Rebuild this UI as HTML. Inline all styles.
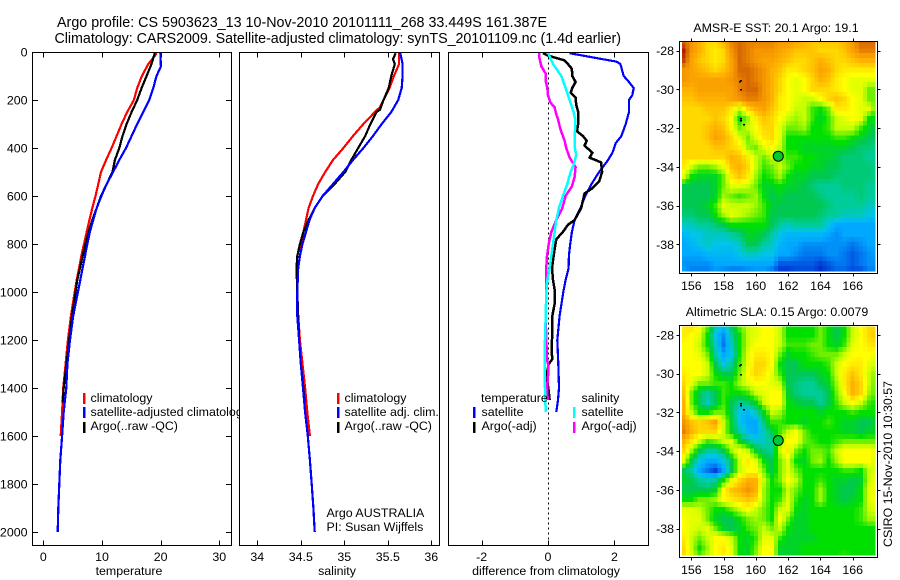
<!DOCTYPE html>
<html lang="en">
<head>
<meta charset="utf-8">
<title>Argo profile</title>
<style>
html,body{margin:0;padding:0;background:#fff;}
svg{display:block;font-family:"Liberation Sans",sans-serif;fill:#000;}
text{font-size:12.4px;}
.ttl{font-size:14.3px;}
</style>
</head>
<body>
<svg id="chart" xmlns="http://www.w3.org/2000/svg" width="900" height="580" viewBox="0 0 900 580">
<rect width="900" height="580" fill="#fff"/>
<text class="ttl" x="57" y="27" textLength="490">Argo profile: CS 5903623_13 10-Nov-2010 20101111_268 33.449S 161.387E</text>
<text class="ttl" x="54.500" y="43" textLength="566.500">Climatology: CARS2009. Satellite-adjusted climatology: synTS_20101109.nc (1.4d earlier)</text>
<g id="layer"></g>
<text x="776" y="32" text-anchor="middle">AMSR-E SST: 20.1 Argo: 19.1</text>
<text x="777" y="316" text-anchor="middle">Altimetric SLA: 0.15 Argo: 0.0079</text>
<text transform="translate(892,547) rotate(-90)">CSIRO 15-Nov-2010 10:30:57</text>
</svg>
<script>
// ---------- profile data ----------
const tempClimDepth = [0,10,50,100,150,200,250,300,350,400,450,500,550,600,650,700,750,800,850,900,950,1000,1100,1200,1300,1400,1500,1600];
const tempClim = [19.3,19.2,17.9,16.8,16.0,15.45,14.3,13.35,12.5,11.65,10.7,9.83,9.37,8.9,8.35,7.85,7.4,6.93,6.47,6.1,5.7,5.35,4.7,4.2,3.8,3.4,3.2,2.96];
const tempSatDepth = [0,60,100,150,200,250,300,350,400,450,500,550,600,650,700,750,800,850,900,950,1000,1100,1200,1300,1400,1500,1600,1700,1800,1900,2000];
const tempSat = [19.95,20.05,19.3,18.75,18.05,17.05,16,15.05,14.1,12.95,11.9,10.8,9.9,9.1,8.5,7.95,7.5,7.1,6.7,6.3,5.9,5.1,4.55,4.1,3.92,3.47,3.2,2.9,2.73,2.56,2.45];
const tempArgoDepth = [5,50,100,150,200,250,300,350,400,450,500,550,600,650,700,750,800,850,900,950,1000,1100,1200,1300,1400,1460];
const tempArgo = [19.0,18.45,17.6,16.75,16,15.05,14.2,13.5,12.95,12.2,11.8,10.8,9.83,9.1,8.35,7.73,7.2,6.7,6.25,5.8,5.5,4.9,4.4,3.95,3.47,3.3];

const salClimDepth = [0,50,100,150,200,230,250,270,300,350,400,450,500,550,600,650,700,750,800,850,900,1000,1100,1200,1400,1500,1600];
const salClim = [35.63,35.63,35.57,35.52,35.45,35.41,35.35,35.3,35.22,35.1,34.99,34.87,34.78,34.7,34.64,34.59,34.56,34.53,34.51,34.49,34.47,34.46,34.47,34.49,34.55,34.575,34.605];
const salSatDepth = [0,50,100,150,200,250,300,350,400,450,500,550,600,650,700,750,800,850,900,1000,1100,1200,1300,1400,1500,1600,1700,1800,1900,2000];
const salSat = [35.64,35.67,35.67,35.66,35.62,35.54,35.43,35.33,35.22,35.1,34.99,34.87,34.75,34.66,34.6,34.56,34.52,34.49,34.47,34.46,34.46,34.48,34.5,34.525,34.55,34.58,34.605,34.625,34.645,34.66];
const salArgoDepth = [5,30,50,100,150,200,240,250,300,350,400,450,500,550,600,650,700,750,800,850,900,1000,1100,1200,1300,1400,1460];
const salArgo = [35.59,35.56,35.58,35.54,35.51,35.45,35.41,35.37,35.3,35.24,35.16,35.08,35.01,34.89,34.75,34.66,34.59,34.53,34.49,34.46,34.45,34.46,34.47,34.48,34.5,34.53,34.545];

const diffTSatDepth = [5,10,20,30,40,50,70,100,120,150,180,200,250,300,350,380,420,450,500,550,600,650,700,750,800,850,900,950,1000,1100,1200,1300,1400,1450,1500];
const diffTSat = [0.65,0.85,1.25,1.65,2.06,2.18,2.22,2.28,2.41,2.58,2.54,2.44,2.44,2.34,2.21,2.04,1.94,1.81,1.54,1.31,1.12,0.98,0.8,0.72,0.67,0.63,0.62,0.53,0.46,0.35,0.28,0.31,0.33,0.3,0.25];
const diffTArgoDepth = [5,15,25,35,50,70,100,125,150,170,190,220,250,300,330,350,370,390,420,440,460,500,540,570,590,650,700,720,750,780,830,900,950,1000,1050,1100,1200,1250,1280,1300,1350,1400,1450];
const diffTArgo = [-0.15,0,0.25,0.5,0.6,0.72,0.73,0.83,0.73,0.68,0.83,0.85,0.91,0.91,0.87,1.05,1.17,1.1,1.34,1.25,1.6,1.63,1.54,1.31,1.1,1,0.8,0.6,0.45,0.25,0.19,0.12,0.15,0.21,0.2,0.13,0.12,0.11,0.13,0.02,-0.05,0.01,0.05];
const diffSSatDepth = [0,20,50,80,100,150,200,250,280,350,400,430,470,500,550,600,650,700,750,800,850,900,950,1000,1100,1200,1300,1400,1500];
const diffSSat = [0,0.05,0.15,0.3,0.4,0.53,0.65,0.77,0.82,0.81,0.81,0.85,0.77,0.68,0.58,0.45,0.33,0.25,0.2,0.15,0.1,0.05,-0.02,-0.05,-0.07,-0.09,-0.1,-0.09,-0.07];
const diffSArgoDepth = [0,15,30,60,90,120,150,180,210,230,260,280,320,370,400,440,480,520,560,600,650,700,750,800,850,900,1000,1100,1200,1280,1300,1350,1400,1450];
const diffSArgo = [-0.25,-0.27,-0.25,-0.2,-0.07,-0.07,-0.02,0,0.07,0.2,0.25,0.3,0.37,0.5,0.55,0.65,0.83,0.8,0.72,0.53,0.43,0.25,0.1,0.02,-0.03,-0.05,-0.05,-0.07,-0.05,-0.03,0,0,-0.03,-0.01];

// ---------- tick labels ----------
const depthTicks = [0,200,400,600,800,1000,1200,1400,1600,1800,2000];
const tempTicks = [0,10,20,30];
const salTicks = [34,34.5,35,35.5,36];
const diffTicks = [-2,0,2];
const lonTicks = [156,158,160,162,164,166];
const latTicks = [28,30,32,34,36,38];

// ---------- map data (colour level per node, north to south, west to east) ----------
const sstGrid = [
[14,13,12,11,11,12,13.5,14,13.5,13.5,13.5,13.5,13,13,12.5,12,11.5,11.5,11.5,11.5,12,13,14,14,14],
[15,13,12,11,10.5,11,13,14,13.5,13,13,13,12.5,12,11.5,11.5,11.5,11,11,11,11.5,12.5,13.5,13.5,13.5],
[14.5,12.5,11.5,11,10.5,11,12.5,14,13.5,13,12.5,12.5,12,11.5,11,11,11.5,12,11.5,11,11,11.5,12,12,12],
[13,12.5,12,11.5,11,11.5,12.5,14,14,13.5,13,12,11.5,10.5,10.5,11,11.5,12.5,12,11,10.5,10.5,10.5,10.5,10.5],
[13,12.5,12.5,12.5,12.5,12.5,13,13.5,14,13.5,13,12,11,10,9.5,10,11,12,11.5,10.5,10,9.5,9.5,9.5,9.5],
[12,12,12.5,12.5,12.5,12.5,12.5,13.5,14,14,13,12,11,10,9.5,10,11,11,11,10.5,10,9.5,9.5,8,8],
[11.5,11.5,12,12,12,12,12.5,13,13.5,13.5,13,12,10.5,10,9.5,9,9,10,11,11.5,11,10,9.5,8,8],
[11,11,11,11.5,11.5,11.5,10.5,9,11,12,12.5,11.5,10.5,10,9,9,7.5,7,8,10.5,10.5,10,9.5,9.5,7.5],
[11,11,11,11,11.5,11,10,7,8.5,10.5,11.5,11,10,9,8.5,9,7.5,6.5,7.5,9,9.5,10,9.5,7,6.5],
[11,11,11,11.5,12,11.5,10,8,9,10,11,11,9.5,8,8,8.5,7,7,7.5,9,9,9,7.5,6.5,6],
[11,11,11,11.5,12.5,12,11,9.5,8,9.5,10.5,11,9.5,7,7,7,7,7,7,7.5,7.5,7,6.5,6,5.5],
[11,11,11,11,11.5,11.5,11,10.5,8.5,8,9.5,10,9,7,7,6.5,6.5,6.5,6.5,6.5,6.5,6,5.5,5.5,5],
[11,11,11,11,11,11,12,11.5,10.5,9,8,9,8.5,7.5,7.5,7,7,6.5,6.5,6,5.5,5.5,5.5,5,5],
[10.5,9,8,8,8.5,9.5,11.5,12,11,9,7.5,8,9,8,7,7,6.5,6.5,6,6,5.5,5.5,5.5,5.5,5],
[9.5,7,6.5,6.5,6.5,8,10.5,11.5,10.5,8.5,7,7.5,8.5,7,6.5,6.5,6,6,6,5.5,5.5,5.5,5.5,5.5,5],
[6,6,6,6,6.5,8,9.5,9.5,9,8,6.5,6.5,7,6.5,6.5,6,5.5,5,5,5,5.5,5.5,5.5,5,5],
[6,6,6,6,6.5,8.5,8,7.5,8,8.5,7,6,6.5,6,6,6,6,5.5,5,5,5,5,5.5,5,5],
[6,6,6,6.5,7.5,9.5,9,9,9,8.5,7.5,6.5,6,6,6,6,6,6,5.5,5,5,5,5,4.5,4.5],
[5.5,5.5,6,6,7,8.5,9.5,9,8.5,8,7.5,6,6,6,6,6,6,5.5,5,5,4.5,4.5,4.5,4,4],
[4.5,4.5,5,5,5.5,6,7,7,7,7,7,6,5,4.5,5,5,5,5,4,3,3,3,3,3,3],
[3.5,4,4,4.5,4.5,4.5,5,5.5,6.5,6.5,6,5,4,3.5,3.5,3.5,3.5,3.5,3,2.5,3,3,3,3,3],
[3,3.5,4,4.5,4,4,4,4.5,6,6,5,4.5,3.5,3,3,2.5,2.5,2.5,2.5,2.5,2.5,2,2.5,3,3],
[3,3,3,3.5,3.5,3.5,3.5,4,4.5,4.5,4,4,3,3,2.5,2,2,2,2.5,2.5,2,1.5,2,2.5,3],
[2.5,2.5,2.5,2.5,3,3,3,3,3,3,3,3,1.5,1.5,1.5,1.5,1.5,1,1.5,2,2,1.5,2,2.5,2.5],
[3,2,2,2,2.5,2,1.5,1.5,2,2.5,2.5,1.5,0.5,0.5,1,1,1,0.5,1,1.5,1.5,1,1,2,2]
];
const slaGrid = [
[10.5,11,10,8,5,4,6,8,9,9.5,10,10,9,7,7,7,7,8,7,6,7,9,10,11,11],
[10.5,10,9.5,7,4,2.5,5,7,9,9.5,10,10,9,7,7,7,7,8,7,6,7,9,10,11,11.5],
[10,10,9,7,4.5,2,4.5,7,9,10,10,10,9,7.5,7.5,7.5,8,8,7,6.5,7.5,9.5,10,10.5,11],
[10,10,9.5,8,5,3,4,7,9.5,10.5,10.5,10,8,6.5,7,7,7.5,8,8,8,9,10,10,10,9.5],
[10,10,10,9,6,4,5,7.5,9.5,11,11,10,7,6,6,7,7,7,7.5,9,10,10.5,10.5,9.5,9],
[10.5,10,10,9,7,6,6,8,10,11,10.5,9.5,7.5,6,6,6,6,6.5,7,9,10.5,11.5,10.5,9,8],
[11,9.5,8,8,7.5,7.5,7,8.5,9.5,10,10,9.5,9,6,5.5,5,5,6,6.5,8.5,10.5,12,11,9,7.5],
[11.5,8,6,5,6,7.5,7,7,7.5,9,9.5,10,10,6.5,5.5,5,5,5,6,8,10,12,11,8.5,7.5],
[12,8,6,4.5,6,7.5,6,5,5.5,6.5,9,10,10,7,6.5,6,6,5,6,7.5,9,10,9,7.5,7],
[12,9,7,7,8,8,6,4,3.5,4.5,6.5,9,8.5,7,7,7,7,6.5,7,7,7,7.5,7,7,7],
[13,11.5,11,11.5,12.5,9,6.5,4,3,3,5.5,7.5,7.5,7,7,6.5,7,7,7.5,7,6.5,6.5,6,6,6.5],
[13.5,12,11,11,11,9,6.5,5,3.5,3,4.5,6,7.5,9,10,8,7,7,7,7,6.5,6.5,6,6.5,6.5],
[12,10.5,9,7.5,8,9,9.5,7,5.5,4.5,4.5,5,8.5,10,10,8,7.5,7,7,7.5,8,8,8,8,8],
[11,8.5,6,5,5,6,8.5,10,9,6.5,5.5,5,9,10.5,8,7,8,8,7.5,9,10,10,10,10,9.5],
[9.5,6,4,3,3,4,6,9,10.5,9.5,7,6,8,9.5,7,6.5,8,8.5,7,8.5,10,10,10,10,9],
[6,5,3,2,1,3,6,9,10,10,8,6,8,9.5,8,7,7,7,7,7,7.5,7.5,7,9,9.5],
[6.5,6,5,4.5,5,7,9.5,11,12,12,9,7,8,10,9,7,7,7.5,7,6.5,6.5,6,6.5,9,10],
[6,6,6,6,6.5,10,11.5,12,13,12,8.5,7,7,9,8,7,7,8.5,7,6.5,6,6,7,9.5,10],
[7,7,8,8,8.5,10,10.5,11,11.5,11,8.5,7,7.5,9.5,7.5,6.5,7,8.5,7,6.5,6,6.5,7,9.5,10],
[9.5,9.5,9,8,7,7,8,9,10,9,8,7,9,9.5,7,6.5,7,7,7,7,7,7,7.5,9,9.5],
[10,9.5,9.5,8,6.5,6,6,7,8,8.5,8,7,10,8,6.5,6.5,7,7,7,7,7,7,7.5,8.5,8.5],
[10,9.5,9,9.5,8,6.5,6,6.5,7.5,8,9,8,9,7,6.5,6.5,7,7,7,7,7,7,7,7,7],
[10.5,9,8,9,10,10,9,7,6.5,7.5,9.5,9.5,7.5,6.5,6.5,6.5,6.5,7,7,7,7,7,7,7,7],
[11,9,7,8.5,10,10.5,9.5,7,6.5,8,10,10,6.5,6.5,6.5,7,7,7,7,7,7,7,7,7,7],
[11,9.5,8,9,10,10.5,9.5,7,6.5,8.5,10,10,6.5,6.5,6.5,7,7,7,7,7,7.5,7,7,7,7]
];
const floatTrackLon = [159,159,159,159.2,158.95,159];
const floatTrackLat = [29.5,30,31.6,31.8,29.55,31.5];
const argoLon = [161.387];
const argoLat = [33.449];
const levelColors = [[0,0,144],[0,64,216],[0,120,240],[0,168,255],[0,196,232],[0,204,153],[0,200,80],[0,224,0],[112,240,0],[200,255,0],[255,255,0],[255,216,0],[255,176,0],[245,150,0],[215,105,0],[176,32,0]];

// ---------- helpers ----------
const NS = 'http://www.w3.org/2000/svg';
const layer = document.getElementById('layer');
function mk(tag, props, parent) {
  const el = document.createElementNS(NS, tag);
  for (const k in props) el.setAttribute(k, props[k]);
  (parent || layer).appendChild(el);
  return el;
}
function label(txt, x, y, anchor, name) {
  const el = mk('text', {x: x, y: y, 'text-anchor': anchor || 'start'});
  el.textContent = txt;
  
  
  return el;
}
const TOP = 52.5, BOTTOM = 545.5;
const yDepth = p => 52 + 0.24 * p;

function linear(d0, d1, r0, r1) { return v => r0 + (v - d0) * (r1 - r0) / (d1 - d0); }

function panelFrame(name, x0, x1, xScale, xTicks, xTickText, xTitle, titleX) {
  const g = mk('g', {});
  
  
  const bg = mk('rect', {x: x0, y: TOP, width: x1 - x0, height: BOTTOM - TOP, fill: '#fff'}, g);
  
  
  xTicks.forEach(t => {
    const x = Math.round(xScale(t)) + 0.5;
    const top = mk('line', {x1: x, x2: x, y1: TOP, y2: TOP + 5, stroke: '#000', 'shape-rendering': 'crispEdges'}, g);
    
    
    const bot = mk('line', {x1: x, x2: x, y1: BOTTOM, y2: BOTTOM - 5, stroke: '#000', 'shape-rendering': 'crispEdges'}, g);
    
    
    label(xTickText(t), xScale(t), 561, 'middle', 'x-tick-label');
  });
  label(xTitle, titleX, 575, 'middle', 'x-axis-title');
  return g;
}
function panelBorder(name, x0, x1) {
  const b = mk('rect', {x: x0, y: TOP, width: x1 - x0, height: BOTTOM - TOP, fill: 'none', stroke: '#000', 'stroke-width': 1, 'shape-rendering': 'crispEdges'});
  
  
}
function profile(name, depths, values, xScale, color, width) {
  const pts = depths.map((p, i) => xScale(values[i]).toFixed(1) + ',' + yDepth(p).toFixed(1)).join(' ');
  const l = mk('polyline', {points: pts, fill: 'none', stroke: color, 'stroke-width': width, 'shape-rendering': 'crispEdges', 'stroke-linejoin': 'round'});
  
  
}
function swatch(name, x, y, color) {
  const s = mk('rect', {x: x, y: y, width: 2.5, height: 11, fill: color, 'shape-rendering': 'crispEdges'});
  
  
}

// ---------- temperature panel ----------
const xTemp = linear(0, 30, 43.3, 219.3);
panelFrame('temperature-panel', 32.5, 231.5, xTemp, tempTicks, String, 'temperature', 129);
depthTicks.forEach(t => {
  const y = Math.round(yDepth(t)) + 0.5;
  const a = mk('line', {x1: 32.5, x2: 38, y1: y, y2: y, stroke: '#000', 'shape-rendering': 'crispEdges'});
  
  
  const b = mk('line', {x1: 226, x2: 231.5, y1: y, y2: y, stroke: '#000', 'shape-rendering': 'crispEdges'});
  
  
  label(String(t), 27.500, yDepth(t) + 4.5, 'end', 'depth-tick-label');
});
profile('temperature-climatology-line', tempClimDepth, tempClim, xTemp, '#f00', 2.2);
profile('temperature-argo-line', tempArgoDepth, tempArgo, xTemp, '#000', 2.2);
profile('temperature-satellite-line', tempSatDepth, tempSat, xTemp, '#00f', 2.2);
swatch('legend-swatch-climatology', 83, 393, '#f00');
swatch('legend-swatch-satellite', 83, 407, '#00f');
swatch('legend-swatch-argo', 83, 422, '#000');
label('climatology', 90.500, 402, 'start', 'legend-climatology');
label('satellite-adjusted climatology', 90.500, 416, 'start', 'legend-satellite-adjusted');
label('Argo(..raw -QC)', 90.500, 430, 'start', 'legend-argo');
panelBorder('temperature-panel-border', 32.5, 231.5);

// ---------- salinity panel ----------
const xSal = linear(34, 36, 257.3, 431.3);
panelFrame('salinity-panel', 239.5, 439.5, xSal, salTicks, String, 'salinity', 337);
profile('salinity-climatology-line', salClimDepth, salClim, xSal, '#f00', 2.2);
profile('salinity-argo-line', salArgoDepth, salArgo, xSal, '#000', 2.2);
profile('salinity-satellite-line', salSatDepth, salSat, xSal, '#00f', 2.2);
swatch('legend-swatch-climatology', 337, 393, '#f00');
swatch('legend-swatch-satellite', 337, 407, '#00f');
swatch('legend-swatch-argo', 337, 422, '#000');
label('climatology', 344.500, 402, 'start', 'legend-climatology');
label('satellite adj. clim.', 344.500, 416, 'start', 'legend-satellite-adj');
label('Argo(..raw -QC)', 344.500, 430, 'start', 'legend-argo');
label('Argo AUSTRALIA', 326.500, 517, 'start', 'argo-australia-note');
label('PI: Susan Wijffels', 326.500, 531, 'start', 'principal-investigator-note');
panelBorder('salinity-panel-border', 239.5, 439.5);

// ---------- difference panel ----------
const xDiff = linear(-2, 2, 481.6, 614.4);
panelFrame('difference-panel', 448.5, 648.5, xDiff, diffTicks, String, 'difference from climatology', 546);
const zeroX = Math.round(xDiff(0)) + 0.5;
const zeroLine = mk('line', {x1: zeroX, x2: zeroX, y1: TOP, y2: BOTTOM, stroke: '#000', 'stroke-dasharray': '2 3', 'shape-rendering': 'crispEdges'});


profile('difference-temperature-satellite-line', diffTSatDepth, diffTSat, xDiff, '#00f', 2.2);
profile('difference-temperature-argo-line', diffTArgoDepth, diffTArgo, xDiff, '#000', 2.5);
profile('difference-salinity-argo-line', diffSArgoDepth, diffSArgo, xDiff, '#f0f', 2.5);
profile('difference-salinity-satellite-line', diffSSatDepth, diffSSat, xDiff, '#0ff', 2.5);
label('temperature', 481, 402, 'start', 'legend-temperature-heading');
label('satellite', 481.500, 416, 'start', 'legend-temperature-satellite');
label('Argo(-adj)', 481.500, 430, 'start', 'legend-temperature-argo');
label('salinity', 581.500, 402, 'start', 'legend-salinity-heading');
label('satellite', 581.500, 416, 'start', 'legend-salinity-satellite');
label('Argo(-adj)', 581.500, 430, 'start', 'legend-salinity-argo');
swatch('legend-swatch-temperature-satellite', 473, 407, '#00f');
swatch('legend-swatch-temperature-argo', 473, 422, '#000');
swatch('legend-swatch-salinity-satellite', 573, 407, '#0ff');
swatch('legend-swatch-salinity-argo', 573, 422, '#f0f');
panelBorder('difference-panel-border', 448.5, 648.5);

// ---------- maps ----------
function levelColor(v) {
  const lo = Math.max(0, Math.min(levelColors.length - 2, Math.floor(v)));
  const f = Math.max(0, Math.min(1, v - lo));
  const a = levelColors[lo], b = levelColors[lo + 1];
  return 'rgb(' + a.map((c, k) => Math.round(c + (b[k] - c) * f)).join(',') + ')';
}
// interpolated shading: each grid interval is drawn as two cells
function shadeAt(grid, r, c) {
  const r0 = Math.floor(r / 2), r1 = Math.ceil(r / 2);
  const c0 = Math.floor(c / 2), c1 = Math.ceil(c / 2);
  return (grid[r0][c0] + grid[r0][c1] + grid[r1][c0] + grid[r1][c1]) / 4;
}
function drawMap(name, grid, frameTop, frameBottom, imgTop, imgBottom, lat28y, pxPerDeg) {
  const xLon = linear(156, 166, 691.3, 852.7);
  const yLat = v => lat28y + (v - 28) * pxPerDeg;
  const left = 682, right = 875;
  const g = mk('g', {});
  
  
  const nRows = grid.length * 2 - 1, nCols = grid[0].length * 2 - 1;
  for (let r = 0; r < nRows; r++) {
    const lat = 27.5 + r * 0.25;
    for (let c = 0; c < nCols; c++) {
      const lon = 155.5 + c * 0.25;
      const x0 = Math.max(left, xLon(lon - 0.125)), x1 = Math.min(right, xLon(lon + 0.125));
      const y0 = Math.max(imgTop, yLat(lat - 0.125)), y1 = Math.min(imgBottom, yLat(lat + 0.125));
      if (x1 <= x0 || y1 <= y0) continue;
      const cell = mk('rect', {x: x0.toFixed(2), y: y0.toFixed(2), width: (x1 - x0 + 0.3).toFixed(2), height: (y1 - y0 + 0.3).toFixed(2), fill: levelColor(shadeAt(grid, r, c)), 'shape-rendering': 'crispEdges'}, g);
      
      
    }
  }
  floatTrackLon.forEach((lon, i) => {
    const d = mk('rect', {x: Math.round(xLon(lon)), y: Math.round(yLat(floatTrackLat[i])), width: 2, height: 1.5, fill: '#000', 'shape-rendering': 'crispEdges'}, g);
    
    
  });
  argoLon.forEach((lon, i) => {
    const m = mk('circle', {cx: xLon(lon), cy: yLat(argoLat[i]), r: 5, fill: '#00c832', stroke: '#000', 'stroke-width': 1}, g);
    
    
  });
  const f = mk('rect', {x: 679.5, y: frameTop, width: 198, height: frameBottom - frameTop, fill: 'none', stroke: '#000', 'shape-rendering': 'crispEdges'}, g);
  
  
  lonTicks.forEach(t => {
    const x = Math.round(xLon(t)) + 0.5;
    const a = mk('line', {x1: x, x2: x, y1: frameTop - 3, y2: frameTop, stroke: '#000', 'shape-rendering': 'crispEdges'}, g);
    
    
    const b = mk('line', {x1: x, x2: x, y1: frameBottom, y2: frameBottom + 3, stroke: '#000', 'shape-rendering': 'crispEdges'}, g);
    
    
    label(String(t), xLon(t), frameBottom + 16.5, 'middle', 'lon-tick-label');
  });
  latTicks.forEach(t => {
    const y = Math.round(yLat(t)) + 0.5;
    const a = mk('line', {x1: 676.5, x2: 679.5, y1: y, y2: y, stroke: '#000', 'shape-rendering': 'crispEdges'}, g);
    
    
    const b = mk('line', {x1: 877.5, x2: 880.5, y1: y, y2: y, stroke: '#000', 'shape-rendering': 'crispEdges'}, g);
    
    
    label('-' + t, 674, yLat(t) + 4.5, 'end', 'lat-tick-label');
  });
}
drawMap('sst-map', sstGrid, 41.5, 273.5, 42, 271, 50.7, 19.36);
drawMap('sla-map', slaGrid, 325.5, 557.5, 326.5, 555, 335, 19.36);
</script>
</body>
</html>
